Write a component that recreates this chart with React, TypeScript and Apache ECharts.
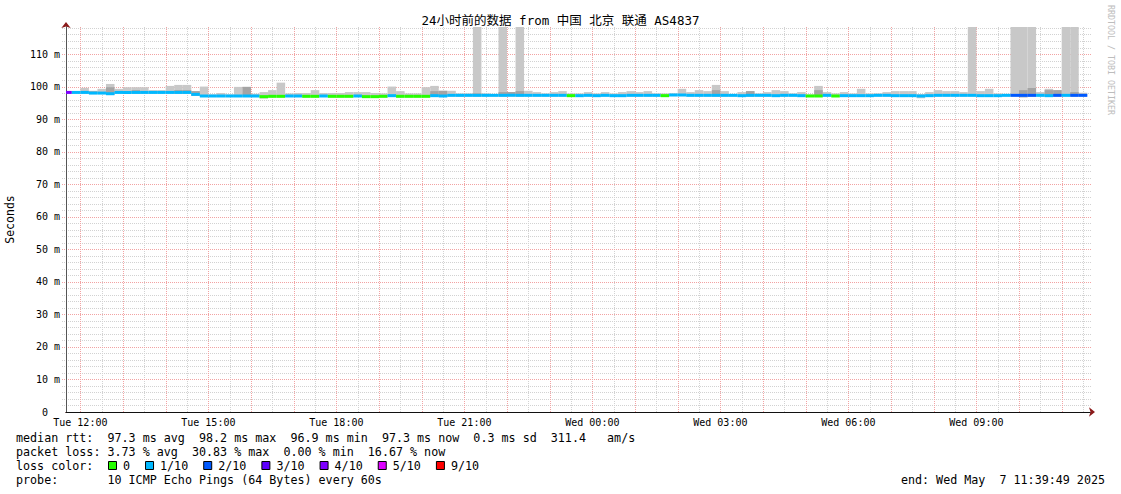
import React, { useEffect, useRef } from 'react';
import * as echarts from 'echarts';

// ---- time frame (minutes since Tue 00:00) ----
const START_MIN = 699 + 49 / 60; // Tue 11:39:49
const END_MIN = START_MIN + 1440; // Wed 11:39:49
const FIRST_STEP_MIN = 696; // Tue 11:36, first 12-minute consolidation step
const STEP_MIN = 12;

// ---- axis ticks / labels ----
const TIME_LABEL_MIN = [720, 900, 1080, 1260, 1440, 1620, 1800, 1980];
const TIME_LABELS = ['Tue 12:00', 'Tue 15:00', 'Tue 18:00', 'Tue 21:00', 'Wed 00:00', 'Wed 03:00', 'Wed 06:00', 'Wed 09:00'];
const Y_TICKS = [0, 10, 20, 30, 40, 50, 60, 70, 80, 90, 100, 110];
const Y_LABELS = ['0\u00a0\u00a0', '10 m', '20 m', '30 m', '40 m', '50 m', '60 m', '70 m', '80 m', '90 m', '100 m', '110 m'];
const Y_MAX = 118.3;

// ---- data: one value per 12-minute step (120 steps) ----
const MEDIAN = [
  98.2, 98.2, 98.2, 98.0, 98.0, 97.8, 98.2, 98.2, 98.2, 98.2,
  98.2, 98.2, 98.2, 98.2, 98.2, 97.6, 97.1, 97.1, 97.1, 97.1,
  97.1, 97.1, 97.1, 96.9, 97.0, 97.0, 97.1, 97.1, 97.0, 97.0,
  97.1, 97.0, 97.0, 97.0, 97.1, 96.9, 96.9, 97.0, 97.2, 97.0,
  97.0, 97.0, 97.0, 97.2, 97.1, 97.3, 97.3, 97.3, 97.3, 97.3,
  97.3, 97.3, 97.3, 97.3, 97.3, 97.3, 97.3, 97.3, 97.3, 97.2,
  97.2, 97.3, 97.2, 97.3, 97.2, 97.2, 97.3, 97.3, 97.3, 97.3,
  97.2, 97.4, 97.4, 97.3, 97.3, 97.3, 97.3, 97.3, 97.3, 97.2,
  97.3, 97.3, 97.3, 97.2, 97.3, 97.3, 97.2, 97.1, 97.1, 97.3,
  97.1, 97.2, 97.2, 97.2, 97.2, 97.3, 97.3, 97.2, 97.2, 97.2,
  97.1, 97.2, 97.3, 97.3, 97.3, 97.3, 97.3, 97.2, 97.2, 97.2,
  97.3, 97.3, 97.3, 97.3, 97.3, 97.2, 97.3, 97.3, 97.3, 97.3,
];

const LOSS_PCT = [
  30.83, 3.33, 2.5, 4.17, 3.33, 5.0, 2.5, 3.33, 4.17, 2.5,
  1.67, 3.33, 2.5, 4.17, 3.33, 5.0, 2.5, 1.67, 3.33, 2.5,
  3.33, 4.17, 1.67, 0, 0, 0, 1.67, 0.83, 0, 0,
  1.67, 0, 0, 0, 0.83, 0, 0, 0, 2.5, 0,
  0, 0, 0, 1.67, 2.5, 3.33, 4.17, 3.33, 8.33, 3.33,
  2.5, 7.5, 3.33, 6.67, 4.17, 3.33, 2.5, 3.33, 2.5, 0,
  1.67, 3.33, 2.5, 3.33, 4.17, 2.5, 3.33, 4.17, 3.33, 2.5,
  0, 1.67, 3.33, 4.17, 3.33, 2.5, 5.0, 3.33, 2.5, 3.33,
  4.17, 3.33, 2.5, 3.33, 4.17, 2.5, 1.67, 0, 0, 0.83,
  0, 2.5, 3.33, 4.17, 3.33, 2.5, 3.33, 4.17, 3.33, 2.5,
  3.33, 4.17, 3.33, 2.5, 3.33, 4.17, 9.17, 3.33, 4.17, 2.5,
  5.0, 15.83, 18.33, 16.67, 7.5, 5.83, 12.5, 9.17, 14.17, 16.67,
];

const SMOKE_LO = [
  97.9, 97.9, 97.9, 97.7, 97.7, 97.5, 97.9, 97.9, 97.9, 97.9,
  97.9, 97.9, 97.9, 97.9, 97.9, 97.2, 96.8, 96.8, 96.8, 96.8,
  96.8, 96.8, 96.8, 96.3, 96.7, 96.7, 96.8, 96.8, 96.7, 96.7,
  96.8, 96.7, 96.7, 96.7, 96.8, 96.6, 96.6, 96.7, 96.9, 96.7,
  96.7, 96.7, 96.7, 96.9, 96.8, 97.0, 97.0, 97.0, 97.0, 97.0,
  97.0, 97.0, 97.0, 97.0, 97.0, 97.0, 97.0, 97.0, 97.0, 96.9,
  96.9, 97.0, 96.9, 97.0, 96.9, 96.9, 97.0, 97.0, 97.0, 97.0,
  96.9, 97.1, 97.1, 97.0, 97.0, 97.0, 97.0, 97.0, 97.0, 96.9,
  97.0, 97.0, 97.0, 96.9, 97.0, 97.0, 96.9, 96.8, 96.8, 97.0,
  96.8, 96.9, 96.9, 96.9, 96.9, 97.0, 97.0, 96.9, 96.9, 96.9,
  96.4, 96.9, 97.0, 97.0, 97.0, 97.0, 97.0, 96.9, 96.9, 96.9,
  97.0, 97.0, 96.7, 97.0, 97.0, 96.9, 97.0, 97.0, 97.0, 97.0,
];

const SMOKE_MID = [
  97.9, 97.9, 97.9, 98.5, 97.7, 99.8, 97.9, 97.9, 98.9, 97.9,
  97.9, 97.9, 97.9, 98.9, 98.9, 98.6, 96.8, 96.8, 96.8, 96.8,
  96.8, 99.9, 96.8, 96.3, 96.7, 96.7, 96.8, 96.8, 96.7, 96.7,
  96.8, 96.7, 96.7, 96.7, 96.8, 96.6, 96.6, 96.7, 96.9, 96.7,
  96.7, 96.7, 96.7, 98.6, 98.7, 97.0, 97.6, 97.0, 97.9, 97.0,
  97.0, 98.3, 98.3, 98.6, 97.0, 97.0, 97.0, 97.0, 97.0, 96.9,
  96.9, 97.0, 96.9, 97.0, 96.9, 96.9, 97.0, 97.0, 97.0, 97.0,
  96.9, 97.1, 97.1, 97.0, 97.0, 97.0, 98.9, 97.0, 97.0, 96.9,
  98.6, 97.0, 97.0, 96.9, 97.0, 97.0, 96.9, 96.8, 98.9, 97.0,
  96.8, 96.9, 96.9, 96.9, 96.9, 97.0, 97.0, 96.9, 96.9, 96.9,
  96.4, 96.9, 97.0, 97.0, 97.0, 97.0, 97.0, 96.9, 96.9, 96.9,
  97.0, 97.0, 98.9, 99.55, 97.0, 98.9, 98.9, 97.0, 98.3, 97.0,
];

const SMOKE_HI = [
  98.5, 98.6, 99.6, 98.7, 99.3, 100.8, 99.3, 99.8, 99.8, 99.8,
  98.9, 98.9, 100.2, 100.5, 100.5, 98.6, 100.0, 97.6, 98.0, 97.6,
  99.9, 99.9, 97.8, 98.3, 98.9, 101.2, 97.9, 98.0, 98.0, 98.9,
  98.0, 98.0, 98.0, 98.3, 98.3, 98.3, 98.0, 97.9, 100.0, 98.6,
  97.9, 97.9, 99.8, 100.2, 98.7, 98.7, 97.9, 97.9, 140, 97.9,
  97.7, 140, 98.3, 140, 98.7, 98.3, 97.9, 98.3, 98.6, 97.9,
  97.9, 98.3, 97.9, 98.3, 97.9, 98.3, 98.6, 98.3, 98.6, 97.9,
  97.9, 97.9, 99.3, 98.3, 98.9, 98.6, 100.5, 98.6, 97.6, 98.3,
  98.6, 97.9, 98.3, 98.9, 98.6, 97.9, 98.3, 97.6, 100.2, 98.3,
  97.9, 98.3, 97.9, 99.3, 97.9, 97.9, 98.3, 98.6, 98.6, 98.6,
  97.7, 98.3, 98.9, 98.6, 98.6, 98.3, 140, 98.6, 99.3, 97.9,
  97.6, 140, 140, 140, 98.3, 99.3, 98.9, 140, 140, 98.1,
];

// ---- loss color legend ----
const LOSS_LABELS = ['0', '1/10', '2/10', '3/10', '4/10', '5/10', '9/10'];
const LOSS_COLORS = ['#26ff00', '#00b8ff', '#0059ff', '#5e00ff', '#7e00ff', '#dd00ff', '#ff0000'];
const LOSS_LIMITS = [0, 10, 20, 30, 40, 50, 100];

// ---- texts ----
const TITLE = '24小时前的数据 from 中国 北京 联通 AS4837';
const RTT_LINE = 'median rtt:  97.3 ms avg  98.2 ms max  96.9 ms min  97.3 ms now  0.3 ms sd  311.4   am/s';
const LOSS_LINE = 'packet loss: 3.73 % avg  30.83 % max  0.00 % min  16.67 % now';
const LOSS_COLOR_LABEL = 'loss color:';
const PROBE_LINE = 'probe:       10 ICMP Echo Pings (64 Bytes) every 60s';
const END_LINE = 'end: Wed May  7 11:39:49 2025';
const WATERMARK = 'RRDTOOL / TOBI OETIKER';

const MONO = '"DejaVu Sans Mono", "Noto Sans CJK SC", monospace';
const LEGEND_PX = 11.7;
const CW = LEGEND_PX * 0.602; // char width of DejaVu Sans Mono

const MAJOR_COLOR = '#f2a3a3';
const MINOR_COLOR = '#d2d2d2';

function lossColor(p: number) {
  for (let i = 0; i < LOSS_LIMITS.length; i++) if (p <= LOSS_LIMITS[i]) return LOSS_COLORS[i];
  return LOSS_COLORS[LOSS_COLORS.length - 1];
}

function clip(rect: any, cs: any) {
  return echarts.graphic.clipRectByRect(rect, { x: cs.x, y: cs.y, width: cs.width, height: cs.height });
}

function bandRenderer(color: string) {
  return (params: any, api: any) => {
    const a = api.coord([api.value(0), api.value(2)]);
    const b = api.coord([api.value(1), api.value(3)]);
    const shape = clip({ x: a[0], y: b[1], width: b[0] - a[0], height: a[1] - b[1] }, params.coordSys);
    if (!shape) return null;
    return { type: 'rect', shape, style: { fill: color } };
  };
}

function medianRenderer(params: any, api: any) {
  const a = api.coord([api.value(0), api.value(2)]);
  const b = api.coord([api.value(1), api.value(2)]);
  const shape = clip({ x: a[0], y: a[1] - 1.5, width: b[0] - a[0], height: 3 }, params.coordSys);
  if (!shape) return null;
  return { type: 'rect', shape, style: { fill: lossColor(api.value(3)) } };
}

function vLineRenderer(color: string) {
  return (params: any, api: any) => {
    const cs = params.coordSys;
    const x = Math.round(api.coord([api.value(0), 0])[0]) + 0.5;
    return {
      type: 'line',
      shape: { x1: x, y1: cs.y, x2: x, y2: cs.y + cs.height },
      style: { stroke: color, lineWidth: 1, lineDash: [1, 1] },
    };
  };
}

function hLineRenderer(color: string) {
  return (params: any, api: any) => {
    const cs = params.coordSys;
    const y = Math.round(api.coord([START_MIN, api.value(0)])[1]) + 0.5;
    return {
      type: 'line',
      shape: { x1: cs.x - 4, y1: y, x2: cs.x + cs.width + 2, y2: y },
      style: { stroke: color, lineWidth: 1, lineDash: [1, 1] },
    };
  };
}

export default function App() {
  const ref = useRef<HTMLDivElement>(null);

  useEffect(() => {
    if (!ref.current) return;
    const chart = echarts.init(ref.current, undefined, { renderer: 'svg' });

    const stepStart = MEDIAN.map((_, k) => FIRST_STEP_MIN + k * STEP_MIN);
    const lightData = MEDIAN.map((_, k) => [stepStart[k], stepStart[k] + STEP_MIN, SMOKE_LO[k], SMOKE_HI[k]]);
    const darkData = MEDIAN.map((_, k) => [stepStart[k], stepStart[k] + STEP_MIN, SMOKE_LO[k], SMOKE_MID[k]])
      .filter((d) => d[3] > d[2]);
    const medianData = MEDIAN.map((m, k) => [stepStart[k], stepStart[k] + STEP_MIN, m, LOSS_PCT[k]]);

    // grid positions: red every hour, grey every half hour; red every 10 ms, grey every 2 ms
    const hourTicks: number[][] = [];
    const halfHourTicks: number[][] = [];
    for (let m = 720; m < END_MIN; m += 60) hourTicks.push([m]);
    for (let m = 690; m < END_MIN; m += 60) if (m > START_MIN) halfHourTicks.push([m]);
    const yMajor: number[][] = Y_TICKS.filter((v) => v > 0).map((v) => [v]);
    const yMinor: number[][] = [];
    for (let v = 2; v <= Y_MAX; v += 2) if (v % 10 !== 0) yMinor.push([v]);

    // legend graphics
    const font = `${LEGEND_PX}px ${MONO}`;
    const graphics: any[] = [
      { type: 'text', x: 16, y: 438, style: { text: RTT_LINE, font, fill: '#000', verticalAlign: 'middle' } },
      { type: 'text', x: 16, y: 452, style: { text: LOSS_LINE, font, fill: '#000', verticalAlign: 'middle' } },
      { type: 'text', x: 16, y: 466, style: { text: LOSS_COLOR_LABEL, font, fill: '#000', verticalAlign: 'middle' } },
      { type: 'text', x: 16, y: 480, style: { text: PROBE_LINE, font, fill: '#000', verticalAlign: 'middle' } },
      { type: 'text', x: 1105, y: 480, style: { text: END_LINE, font, fill: '#000', align: 'right', verticalAlign: 'middle' } },
      {
        type: 'text', x: 1111, y: 60, rotation: -Math.PI / 2,
        style: { text: WATERMARK, font: `8.3px ${MONO}`, fill: '#bdbdbd', align: 'center', verticalAlign: 'middle' },
      },
    ];
    let lx = 108;
    LOSS_LABELS.forEach((lab, i) => {
      graphics.push({
        type: 'rect', shape: { x: lx + 0.5, y: 461.5, width: 8, height: 8 },
        style: { fill: LOSS_COLORS[i], stroke: '#000', lineWidth: 1 },
      });
      graphics.push({
        type: 'text', x: lx + 15, y: 466,
        style: { text: lab, font, fill: '#000', verticalAlign: 'middle' },
      });
      lx = lx + 15 + lab.length * CW + 15;
    });

    const gridSeries = (name: string, data: number[][], renderItem: any, enc: any, z: number) => ({
      type: 'custom', name, xAxisIndex: 0, yAxisIndex: 0, z, silent: true,
      renderItem, data, encode: enc, clip: false,
    });

    const option: any = {
      animation: false,
      backgroundColor: '#ffffff',
      title: {
        text: TITLE, left: 'center', top: 14, padding: 0,
        textStyle: { fontFamily: MONO, fontSize: 12.5, fontWeight: 'normal', color: '#000' },
      },
      grid: { left: 66, right: 31, top: 27, bottom: 82, containLabel: false, outerBoundsMode: 'none' },
      xAxis: [
        {
          type: 'value', min: START_MIN, max: END_MIN, position: 'bottom',
          axisLine: {
            show: true, symbol: ['none', 'arrow'], symbolSize: [7, 6], symbolOffset: [0, 5],
            lineStyle: { color: '#8b1a1a', width: 1 },
          },
          axisTick: { show: false },
          axisLabel: {
            show: true, customValues: TIME_LABEL_MIN, margin: 5, alignMinLabel: 'center', alignMaxLabel: 'center',
            fontFamily: MONO, fontSize: 10, color: '#000',
            formatter: (v: number) => {
              const i = TIME_LABEL_MIN.indexOf(Math.round(v));
              return i >= 0 ? TIME_LABELS[i] : '';
            },
          },
          splitLine: { show: false },
          z: 1,
        },
        {
          type: 'value', min: START_MIN, max: END_MIN, position: 'bottom',
          axisLine: { show: true, lineStyle: { color: '#111', width: 1 } },
          axisTick: { show: false },
          axisLabel: { show: false },
          splitLine: { show: false },
          z: 2,
        },
      ],
      yAxis: [
        {
          type: 'value', min: 0, max: Y_MAX, position: 'left',
          name: 'Seconds', nameLocation: 'middle', nameGap: 50, nameRotate: 90,
          nameTextStyle: { fontFamily: MONO, fontSize: 11.5, color: '#000' },
          axisLine: {
            show: true, symbol: ['none', 'arrow'], symbolSize: [7, 6], symbolOffset: [0, 5],
            lineStyle: { color: '#8b1a1a', width: 1 },
          },
          axisTick: { show: false },
          axisLabel: {
            show: true, customValues: Y_TICKS, margin: 6,
            fontFamily: MONO, fontSize: 10, color: '#000',
            formatter: (v: number) => {
              const i = Y_TICKS.indexOf(Math.round(v));
              return i >= 0 ? Y_LABELS[i] : '';
            },
          },
          splitLine: { show: false },
          z: 1,
        },
        {
          type: 'value', min: 0, max: Y_MAX, position: 'left', offset: 0,
          axisLine: { show: true, lineStyle: { color: '#555', width: 1 } },
          axisTick: { show: false },
          axisLabel: { show: false },
          splitLine: { show: false },
          z: 2,
        },
      ],
      series: [
        gridSeries('grid-minor-x', halfHourTicks, vLineRenderer(MINOR_COLOR), { x: 0 }, 1),
        gridSeries('grid-minor-y', yMinor, hLineRenderer(MINOR_COLOR), { y: 0 }, 1),
        gridSeries('grid-major-x', hourTicks, vLineRenderer(MAJOR_COLOR), { x: 0 }, 2),
        gridSeries('grid-major-y', yMajor, hLineRenderer(MAJOR_COLOR), { y: 0 }, 2),
        {
          type: 'custom', name: 'smoke', xAxisIndex: 0, yAxisIndex: 0, z: 5,
          renderItem: bandRenderer('#c8c8c8'), data: lightData,
          encode: { x: [0, 1], y: [2, 3] }, silent: true,
        },
        {
          type: 'custom', name: 'smoke-inner', xAxisIndex: 0, yAxisIndex: 0, z: 6,
          renderItem: bandRenderer('#a4a4a4'), data: darkData,
          encode: { x: [0, 1], y: [2, 3] }, silent: true,
        },
        {
          type: 'custom', name: 'median', xAxisIndex: 0, yAxisIndex: 0, z: 7,
          renderItem: medianRenderer, data: medianData,
          encode: { x: [0, 1], y: 2 }, silent: true,
        },
      ],
      graphic: graphics,
    };

    chart.setOption(option);
    return () => chart.dispose();
  }, []);

  return (
    <div
      ref={ref}
      style={{ position: 'fixed', left: 0, top: 0, width: 1121, height: 494, background: '#fff' }}
    />
  );
}
